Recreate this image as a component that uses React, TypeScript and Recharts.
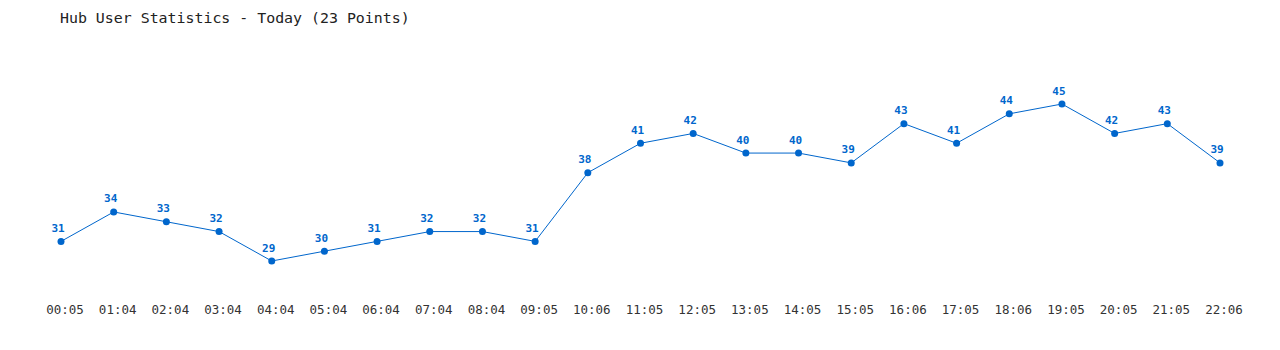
import { LineChart, Line, XAxis, YAxis, LabelList } from "recharts";

const times = [
  "00:05", "01:04", "02:04", "03:04", "04:04", "05:04", "06:04", "07:04",
  "08:04", "09:05", "10:06", "11:05", "12:05", "13:05", "14:05", "15:05",
  "16:06", "17:05", "18:06", "19:05", "20:05", "21:05", "22:06",
];

const users = [
  31, 34, 33, 32, 29, 30, 31, 32, 32, 31, 38, 41, 42, 40, 40, 39, 43, 41, 44,
  45, 42, 43, 39,
];

const BLUE = "#0066cc";
const MONO = "'DejaVu Sans Mono', 'Liberation Mono', monospace";

const chartData = times.map((t, i) => ({ time: t, users: users[i] }));

// eslint-disable-next-line @typescript-eslint/no-explicit-any
function TimeTick(props: any) {
  const { x, payload } = props;
  return (
    <text
      x={x + 4}
      y={309}
      textAnchor="middle"
      dominantBaseline="central"
      fontFamily={MONO}
      fontSize={12.5}
      fill="#333"
    >
      {payload.value}
    </text>
  );
}

// eslint-disable-next-line @typescript-eslint/no-explicit-any
function ValueLabel(props: any) {
  const { x, y, value } = props;
  return (
    <text
      x={x - 3}
      y={y - 13}
      textAnchor="middle"
      dominantBaseline="central"
      fontFamily={MONO}
      fontSize={11}
      fontWeight="bold"
      fill={BLUE}
    >
      {value}
    </text>
  );
}

export default function App() {
  return (
    <div
      style={{
        position: "absolute",
        left: 0,
        top: 0,
        width: 1280,
        height: 350,
        background: "#fff",
      }}
    >
      <div
        style={{
          position: "absolute",
          left: 60,
          top: 8,
          fontFamily: MONO,
          fontSize: 14.9,
          lineHeight: "20px",
          color: "#222",
          whiteSpace: "nowrap",
        }}
      >
        Hub User Statistics - Today (23 Points)
      </div>
      <LineChart
        width={1280}
        height={350}
        data={chartData}
        margin={{ top: 104, right: 60, bottom: 0, left: 61 }}
      >
        <XAxis
          dataKey="time"
          axisLine={false}
          tickLine={false}
          interval={0}
          height={89}
          tick={<TimeTick />}
        />
        <YAxis hide domain={[29, 45]} />
        <Line
          type="linear"
          dataKey="users"
          stroke={BLUE}
          strokeWidth={1}
          dot={{ r: 3.5, fill: BLUE, stroke: BLUE, strokeWidth: 0 }}
          activeDot={false}
          isAnimationActive={false}
        >
          <LabelList dataKey="users" content={<ValueLabel />} />
        </Line>
      </LineChart>
    </div>
  );
}
